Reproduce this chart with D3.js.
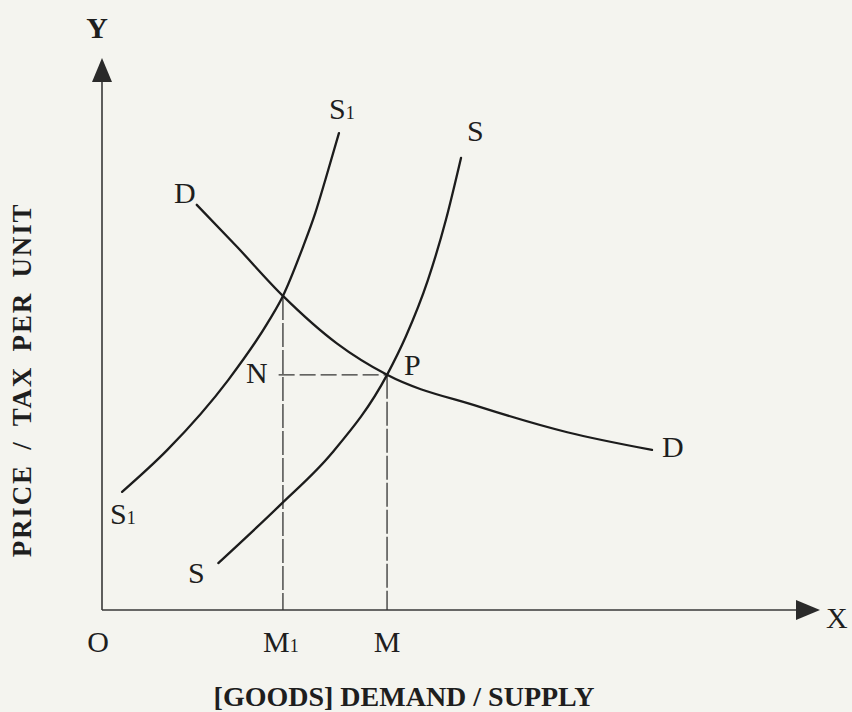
<!DOCTYPE html>
<html>
<head>
<meta charset="utf-8">
<script src="https://cdn.jsdelivr.net/npm/d3@7"></script>
<style>
  html, body { margin: 0; padding: 0; background: #f4f4ef; }
  svg { display: block; }
  text { font-family: "Liberation Serif", "Times New Roman", serif; fill: #1e1e1e; }
</style>
</head>
<body>
<svg id="chart" width="852" height="712"></svg>
<script>
// Quantity (x) and price (y) are on a 0–100 index scale.
const axisMax = 100;

// Demand curve D: [quantity, price]
const demandCurve = [
  [13.2, 73.4], [18.8, 65.8], [25.2, 56.9], [32.7, 48.3],
  [39.7, 42.6], [52.6, 36.8], [64.8, 32.2], [76.6, 29.0]
];

// Supply curve S before the tax
const supplyCurve = [
  [16.2, 8.5], [24.8, 19.0], [32.0, 28.4], [39.7, 42.6],
  [42.3, 49.5], [45.4, 59.8], [47.9, 70.7], [50.0, 81.9]
];

// Supply curve S1 after the per-unit tax
const taxedSupplyCurve = [
  [2.8, 21.4], [9.1, 29.0], [17.6, 41.7], [23.3, 52.5],
  [25.2, 56.9], [28.0, 65.8], [29.7, 71.9], [31.1, 77.9], [33.0, 86.4]
];

// Equilibria: P (no tax) and the taxed intersection of D and S1
const equilibriumP = [39.7, 42.6];
const equilibriumTaxed = [25.2, 56.9];
const nLineStart = 24.6;

// Axis tick labels on the quantity axis
const tickLabels = [
  { value: 0, base: "O", sub: "" },
  { value: 25.2, base: "M", sub: "1" },
  { value: 39.7, base: "M", sub: "" }
];

const svg = d3.select("#chart");

const x = d3.scaleLinear().domain([0, axisMax]).range([102, 820]);
const y = d3.scaleLinear().domain([0, axisMax]).range([610, 58]);

const axisColor = "#383838";
const curveColor = "#1c1c1c";

// Axes with arrowheads
const arrowLen = 24, arrowHalf = 10;
svg.append("line")
  .attr("x1", x(0)).attr("y1", y(0))
  .attr("x2", x(axisMax) - arrowLen).attr("y2", y(0))
  .attr("stroke", axisColor).attr("stroke-width", 1.6);
svg.append("path")
  .attr("d", `M${x(axisMax)},${y(0)} L${x(axisMax) - arrowLen},${y(0) - arrowHalf} L${x(axisMax) - arrowLen},${y(0) + arrowHalf} Z`)
  .attr("fill", "#2a2a2a");

svg.append("line")
  .attr("x1", x(0)).attr("y1", y(0))
  .attr("x2", x(0)).attr("y2", y(axisMax) + arrowLen)
  .attr("stroke", axisColor).attr("stroke-width", 1.6);
svg.append("path")
  .attr("d", `M${x(0)},${y(axisMax)} L${x(0) - arrowHalf},${y(axisMax) + arrowLen} L${x(0) + arrowHalf},${y(axisMax) + arrowLen} Z`)
  .attr("fill", "#2a2a2a");

// Dashed guides from the equilibria to the axes
const guide = (x1, y1, x2, y2, dash) => svg.append("line")
  .attr("x1", x1).attr("y1", y1).attr("x2", x2).attr("y2", y2)
  .attr("stroke", "#333").attr("stroke-width", 1.3)
  .attr("stroke-dasharray", dash);

guide(x(equilibriumTaxed[0]), y(equilibriumTaxed[1]), x(equilibriumTaxed[0]), y(0), "24,3");
guide(x(equilibriumP[0]), y(equilibriumP[1]), x(equilibriumP[0]), y(0), "24,3");
guide(x(nLineStart), y(equilibriumP[1]), x(equilibriumP[0]), y(equilibriumP[1]), "16,5");

// Curves
const line = d3.line()
  .x(d => x(d[0]))
  .y(d => y(d[1]))
  .curve(d3.curveMonotoneX);

[demandCurve, supplyCurve, taxedSupplyCurve].forEach(pts => {
  svg.append("path")
    .attr("d", line(pts))
    .attr("fill", "none")
    .attr("stroke", curveColor)
    .attr("stroke-width", 2.3)
    .attr("stroke-linecap", "round");
});

// Text labels
function label(px, py, base, sub, anchor = "start", size = 30) {
  const t = svg.append("text")
    .attr("x", px).attr("y", py)
    .attr("font-size", size)
    .attr("text-anchor", anchor);
  t.append("tspan").text(base);
  if (sub) t.append("tspan").attr("font-size", size * 0.6).text(sub);
  return t;
}

// Axis letters
label(97, 38, "Y", "", "middle", 30).attr("font-weight", "bold");
label(826, 628, "X", "", "start", 30);

// Quantity tick labels
tickLabels.forEach(d => {
  const px = d.value === 0 ? 98 : x(d.value) - (d.sub ? 2 : 0);
  label(px, 652, d.base, d.sub, "middle", 30);
});

// Curve labels
label(174, 203, "D", "");
label(662, 457, "D", "");
label(329, 119, "S", "1");
label(467, 141, "S", "");
label(110, 524, "S", "1");
label(188, 583, "S", "");
label(246, 383, "N", "");
label(404, 375, "P", "");

// Axis titles
svg.append("text")
  .attr("x", 404).attr("y", 706)
  .attr("text-anchor", "middle")
  .attr("font-size", 28)
  .attr("font-weight", "bold")
  .text("[GOODS] DEMAND / SUPPLY");

svg.append("text")
  .attr("transform", "translate(31,380) rotate(-90)")
  .attr("text-anchor", "middle")
  .attr("font-size", 27)
  .attr("font-weight", "bold")
  .attr("letter-spacing", 1.8)
  .attr("word-spacing", 6)
  .text("PRICE / TAX PER UNIT");
</script>
</body>
</html>
